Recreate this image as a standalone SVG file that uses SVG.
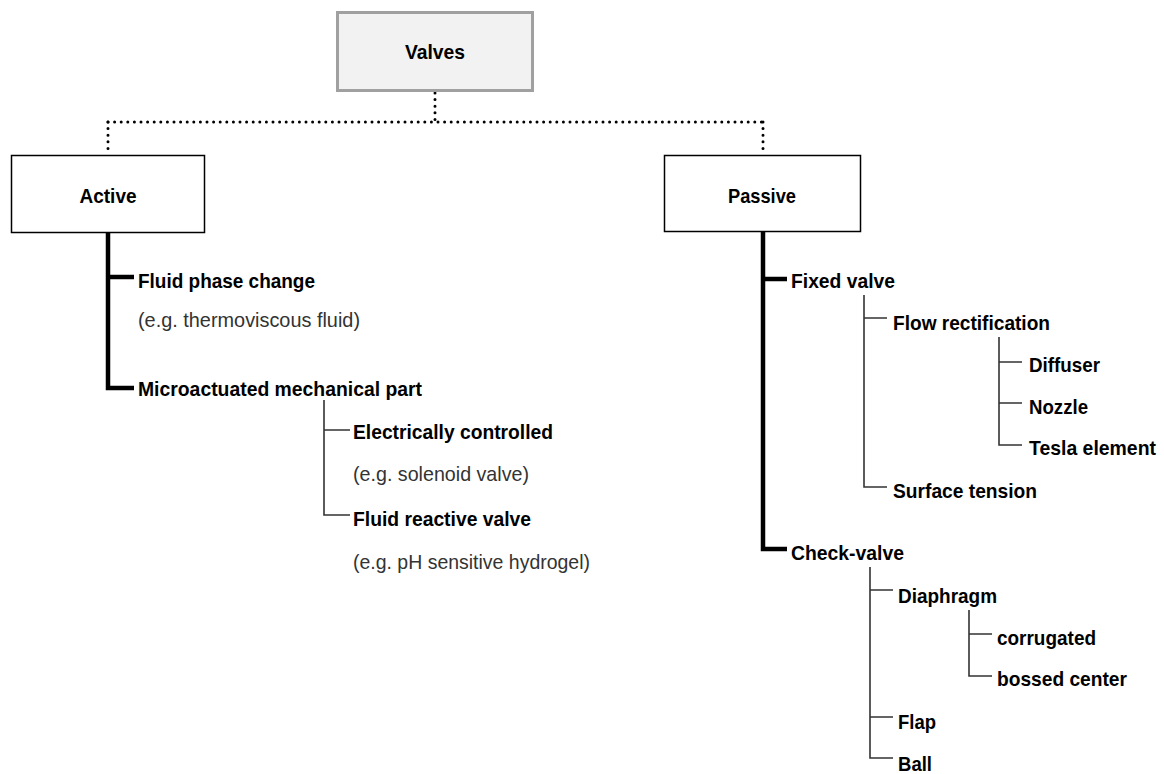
<svg xmlns="http://www.w3.org/2000/svg" width="1164" height="774" viewBox="0 0 1164 774">
<style>
.b{font-family:"Liberation Sans",Arial,sans-serif;font-weight:bold;font-size:21px;fill:#000}
.n{font-family:"Liberation Sans",Arial,sans-serif;font-size:21px;fill:#333}
.c{text-anchor:middle}
.thick{stroke:#000;stroke-width:4.5;fill:none;stroke-linecap:butt}
.thin{stroke:#333;stroke-width:1.6;fill:none}
.dot{stroke:#000;stroke-width:3;fill:none;stroke-linecap:round;stroke-dasharray:0 6.6}
</style>
<rect width="1164" height="774" fill="#fff"/>
<g id="connectors">
  <path class="dot" d="M435 93 V122"/>
  <path class="dot" d="M108 122 H763"/>
  <path class="dot" d="M108 122 V153"/>
  <path class="dot" d="M763 122 V153"/>
  <path class="thick" d="M108 233 V388 H134 M106 277 H134"/>
  <path class="thin" d="M324 400 V515 H350 M324 430 H350"/>
  <path class="thick" d="M763 232 V549 H787 M761 279 H787"/>
  <path class="thin" d="M864 295 V487 H887 M864 318 H887"/>
  <path class="thin" d="M999 337 V445 H1022 M999 362 H1022 M999 403 H1022"/>
  <path class="thin" d="M870 567 V758 H893 M870 590 H893 M870 717 H893"/>
  <path class="thin" d="M969 610 V676 H992 M969 634 H992"/>
</g>
<g id="valves">
  <rect x="337.5" y="12.5" width="195" height="78" fill="#f2f2f2" stroke="#a0a0a0" stroke-width="3"/>
  <text class="b c" x="435" y="59" textLength="60" lengthAdjust="spacingAndGlyphs">Valves</text>
</g>
<g id="active">
  <rect x="11.5" y="155.5" width="193" height="77" fill="#fff" stroke="#000" stroke-width="1.5"/>
  <text class="b c" x="108" y="203" textLength="57" lengthAdjust="spacingAndGlyphs">Active</text>
</g>
<g id="passive">
  <rect x="664.5" y="155.5" width="196" height="76" fill="#fff" stroke="#000" stroke-width="1.5"/>
  <text class="b c" x="762" y="203" textLength="68" lengthAdjust="spacingAndGlyphs">Passive</text>
</g>
<g id="fluid-phase-change">
  <text class="b" x="138" y="288" textLength="177" lengthAdjust="spacingAndGlyphs">Fluid phase change</text>
  <text class="n" x="138" y="327" textLength="222" lengthAdjust="spacingAndGlyphs">(e.g. thermoviscous fluid)</text>
</g>
<g id="microactuated">
  <text class="b" x="138" y="396" textLength="284" lengthAdjust="spacingAndGlyphs">Microactuated mechanical part</text>
</g>
<g id="electrically-controlled">
  <text class="b" x="353" y="439" textLength="200" lengthAdjust="spacingAndGlyphs">Electrically controlled</text>
  <text class="n" x="353" y="481" textLength="176" lengthAdjust="spacingAndGlyphs">(e.g. solenoid valve)</text>
</g>
<g id="fluid-reactive-valve">
  <text class="b" x="353" y="526" textLength="178" lengthAdjust="spacingAndGlyphs">Fluid reactive valve</text>
  <text class="n" x="353" y="569" textLength="237" lengthAdjust="spacingAndGlyphs">(e.g. pH sensitive hydrogel)</text>
</g>
<g id="fixed-valve"><text class="b" x="791" y="288" textLength="104" lengthAdjust="spacingAndGlyphs">Fixed valve</text></g>
<g id="flow-rectification"><text class="b" x="893" y="330" textLength="157" lengthAdjust="spacingAndGlyphs">Flow rectification</text></g>
<g id="diffuser"><text class="b" x="1029" y="372" textLength="71" lengthAdjust="spacingAndGlyphs">Diffuser</text></g>
<g id="nozzle"><text class="b" x="1029" y="414" textLength="59" lengthAdjust="spacingAndGlyphs">Nozzle</text></g>
<g id="tesla-element"><text class="b" x="1029" y="455" textLength="127" lengthAdjust="spacingAndGlyphs">Tesla element</text></g>
<g id="surface-tension"><text class="b" x="893" y="498" textLength="144" lengthAdjust="spacingAndGlyphs">Surface tension</text></g>
<g id="check-valve"><text class="b" x="791" y="560" textLength="113" lengthAdjust="spacingAndGlyphs">Check-valve</text></g>
<g id="diaphragm"><text class="b" x="898" y="603" textLength="99" lengthAdjust="spacingAndGlyphs">Diaphragm</text></g>
<g id="corrugated"><text class="b" x="997" y="645" textLength="99" lengthAdjust="spacingAndGlyphs">corrugated</text></g>
<g id="bossed-center"><text class="b" x="997" y="686" textLength="130" lengthAdjust="spacingAndGlyphs">bossed center</text></g>
<g id="flap"><text class="b" x="898" y="729" textLength="38" lengthAdjust="spacingAndGlyphs">Flap</text></g>
<g id="ball"><text class="b" x="898" y="771" textLength="34" lengthAdjust="spacingAndGlyphs">Ball</text></g>
</svg>
